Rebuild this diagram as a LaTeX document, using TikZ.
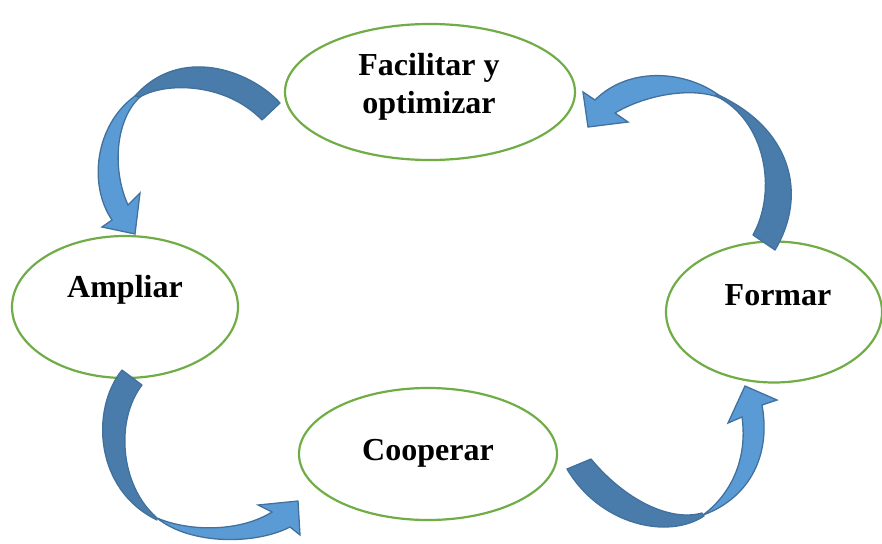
\documentclass[tikz,border=0pt]{standalone}
\usepackage{fontspec}
\setmainfont{Liberation Serif}
\usetikzlibrary{shapes.geometric}
\definecolor{ringgreen}{HTML}{70AD47}
\definecolor{arrlight}{HTML}{5B9BD5}
\definecolor{arrdark}{HTML}{497CAA}
\definecolor{arrline}{HTML}{41719C}
\tikzset{
  ring/.style={ellipse, draw=ringgreen, line width=2.2pt, fill=white, inner sep=0pt},
  lbl/.style={font=\fontsize{32}{38}\selectfont\bfseries, align=center, inner sep=0pt},
  backpart/.style={fill=arrdark, draw=arrline, line width=1.3pt, line join=round},
  frontpart/.style={fill=arrlight, draw=arrline, line width=1.3pt, line join=miter},
}
\begin{document}
\begin{tikzpicture}[x=1pt,y=-1pt]
\useasboundingbox (0,0) rectangle (882,543);
% ellipses
\node[ring, minimum width=290pt, minimum height=136pt] (e1) at (430,92) {};
\node[ring, minimum width=226pt, minimum height=142pt] (e2) at (125,307) {};
\node[ring, minimum width=216pt, minimum height=141pt] (e3) at (774,312) {};
\node[ring, minimum width=258pt, minimum height=132pt] (e4) at (428,454) {};
% labels
\node[lbl] (t1) at (429,87) {Facilitar y\\optimizar};
\node[lbl] (t2) at (125,290) {Ampliar};
\node[lbl] (t3) at (778,295) {Formar};
\node[lbl] (t4) at (428,453) {Cooperar};
% arrow 1: Facilitar -> Ampliar
\filldraw[frontpart] (135,96) .. controls (95,125) and (88,185) .. (112,220)
  -- (102,227) -- (135,234) -- (140,193) -- (128,205)
  .. controls (112,170) and (115,120) .. (140,97) -- cycle;
\filldraw[backpart] (280,103) .. controls (250,70) and (180,45) .. (135,96)
  -- (140,97) .. controls (165,82) and (225,82) .. (262,120) -- cycle;
% arrow 2: Formar -> Facilitar
\filldraw[frontpart] (725,100) .. controls (690,70) and (630,65) .. (595,100)
  -- (583,92) -- (588,127) -- (628,122) -- (615,113)
  .. controls (645,95) and (695,85) .. (725,100) -- cycle;
\filldraw[backpart] (775,250) .. controls (808,195) and (792,128) .. (716,94)
  -- (716,96) .. controls (765,120) and (778,190) .. (753,235) -- cycle;
% arrow 3: Ampliar -> Cooperar
\filldraw[frontpart] (157,518) .. controls (190,545) and (255,545) .. (290,527)
  -- (300,535) -- (298,501) -- (258,505) -- (272,512)
  .. controls (240,532) and (190,532) .. (157,518) -- cycle;
\filldraw[backpart] (122,370) .. controls (90,410) and (95,490) .. (157,520)
  -- (156,517) .. controls (120,485) and (115,420) .. (142,385) -- cycle;
% arrow 4: Cooperar -> Formar
\filldraw[frontpart] (703,515) .. controls (745,500) and (772,460) .. (762,405)
  -- (777,400) -- (745,386) -- (728,423) -- (742,417)
  .. controls (748,460) and (730,495) .. (703,515) -- cycle;
\filldraw[backpart] (567,469) .. controls (600,525) and (668,540) .. (704,516)
  -- (702,513) .. controls (670,522) and (625,500) .. (591,459) -- cycle;
\end{tikzpicture}
\end{document}
